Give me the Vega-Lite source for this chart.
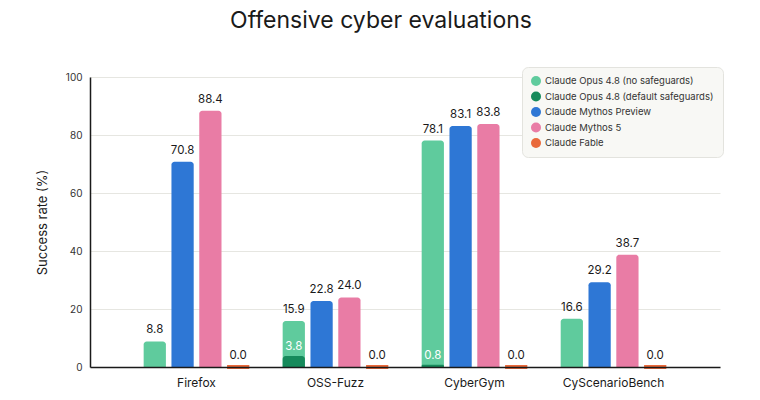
{
  "$schema": "https://vega.github.io/schema/vega-lite/v6.json",
  "autosize": "none",
  "width": 630,
  "height": 290,
  "padding": {"left": 90, "top": 77, "right": 40, "bottom": 33},
  "background": "white",
  "title": {
    "text": "Offensive cyber evaluations",
    "anchor": "middle",
    "frame": "group",
    "dx": -24,
    "offset": 34,
    "fontSize": 23,
    "fontWeight": "normal",
    "font": "Inter",
    "color": "#1a1a1a"
  },
  "config": {
    "view": {"stroke": null},
    "font": "Inter"
  },
  "data": {
    "values": [
      {"bench": "Firefox", "series": "Claude Opus 4.8 (no safeguards)", "slot": "a", "value": 8.8, "label": "8.8"},
      {"bench": "OSS-Fuzz", "series": "Claude Opus 4.8 (no safeguards)", "slot": "a", "value": 15.9, "label": "15.9"},
      {"bench": "CyberGym", "series": "Claude Opus 4.8 (no safeguards)", "slot": "a", "value": 78.1, "label": "78.1"},
      {"bench": "CyScenarioBench", "series": "Claude Opus 4.8 (no safeguards)", "slot": "a", "value": 16.6, "label": "16.6"},
      {"bench": "OSS-Fuzz", "series": "Claude Opus 4.8 (default safeguards)", "slot": "a", "value": 3.8, "label": "3.8"},
      {"bench": "CyberGym", "series": "Claude Opus 4.8 (default safeguards)", "slot": "a", "value": 0.8, "label": "0.8"},
      {"bench": "Firefox", "series": "Claude Mythos Preview", "slot": "b", "value": 70.8, "label": "70.8"},
      {"bench": "OSS-Fuzz", "series": "Claude Mythos Preview", "slot": "b", "value": 22.8, "label": "22.8"},
      {"bench": "CyberGym", "series": "Claude Mythos Preview", "slot": "b", "value": 83.1, "label": "83.1"},
      {"bench": "CyScenarioBench", "series": "Claude Mythos Preview", "slot": "b", "value": 29.2, "label": "29.2"},
      {"bench": "Firefox", "series": "Claude Mythos 5", "slot": "c", "value": 88.4, "label": "88.4"},
      {"bench": "OSS-Fuzz", "series": "Claude Mythos 5", "slot": "c", "value": 24.0, "label": "24.0"},
      {"bench": "CyberGym", "series": "Claude Mythos 5", "slot": "c", "value": 83.8, "label": "83.8"},
      {"bench": "CyScenarioBench", "series": "Claude Mythos 5", "slot": "c", "value": 38.7, "label": "38.7"},
      {"bench": "Firefox", "series": "Claude Fable", "slot": "d", "value": 0.0, "label": "0.0"},
      {"bench": "OSS-Fuzz", "series": "Claude Fable", "slot": "d", "value": 0.0, "label": "0.0"},
      {"bench": "CyberGym", "series": "Claude Fable", "slot": "d", "value": 0.0, "label": "0.0"},
      {"bench": "CyScenarioBench", "series": "Claude Fable", "slot": "d", "value": 0.0, "label": "0.0"}
    ]
  },
  "encoding": {
    "x": {
      "field": "bench",
      "type": "nominal",
      "sort": ["Firefox", "OSS-Fuzz", "CyberGym", "CyScenarioBench"],
      "scale": {"paddingInner": 0.2, "paddingOuter": 0.366},
      "axis": {
        "title": null,
        "labelAngle": 0,
        "labelFontSize": 12,
        "labelColor": "#1a1a1a",
        "labelPadding": 10,
        "ticks": false,
        "domainColor": "#1a1a1a",
        "domainWidth": 1.5,
        "grid": false,
        "zindex": 2
      }
    },
    "xOffset": {
      "field": "slot",
      "type": "nominal",
      "scale": {"domain": ["a", "b", "c", "d"], "paddingInner": 0.2, "paddingOuter": 0.1}
    },
    "y": {
      "field": "value",
      "type": "quantitative",
      "stack": null,
      "scale": {"domain": [0, 100]},
      "axis": {
        "title": "Success rate (%)",
        "titleFontSize": 13,
        "titleFontWeight": "normal",
        "titleColor": "#1a1a1a",
        "titlePadding": 16,
        "values": [0, 20, 40, 60, 80, 100],
        "labelFontSize": 10,
        "labelColor": "#333333",
        "labelPadding": 8,
        "ticks": false,
        "domainColor": "#1a1a1a",
        "domainWidth": 1.5,
        "gridColor": "#e6e6e1",
        "gridWidth": 1,
        "zindex": 0
      }
    }
  },
  "layer": [
    {
      "transform": [{"filter": "datum.series !== 'Claude Fable'"}],
      "mark": {"type": "bar", "cornerRadiusTopLeft": 3, "cornerRadiusTopRight": 3},
      "encoding": {
        "color": {
          "field": "series",
          "type": "nominal",
          "scale": {
            "domain": ["Claude Opus 4.8 (no safeguards)", "Claude Opus 4.8 (default safeguards)", "Claude Mythos Preview", "Claude Mythos 5", "Claude Fable"],
            "range": ["#5fcb9d", "#168a5b", "#2e77d5", "#e97ca5", "#e9693b"]
          },
          "legend": {
            "title": null,
            "orient": "none",
            "legendX": 432,
            "legendY": -10,
            "symbolType": "circle",
            "symbolSize": 100,
            "symbolStrokeWidth": 0,
            "labelFontSize": 9.5,
            "labelLimit": 0,
            "labelColor": "#333333",
            "rowPadding": 5.5,
            "padding": 9,
            "fillColor": "#f8f8f5",
            "strokeColor": "#e3e3de",
            "cornerRadius": 6,
            "labelOffset": 4
          }
        }
      }
    },
    {
      "transform": [{"filter": "datum.series === 'Claude Fable'"}],
      "mark": {"type": "bar", "color": "#e9693b", "stroke": "#e9693b", "strokeWidth": 4, "cornerRadius": 2}
    },
    {
      "transform": [{"filter": "datum.series !== 'Claude Opus 4.8 (default safeguards)'"}],
      "mark": {"type": "text", "baseline": "bottom", "dy": -6, "fontSize": 11.5, "color": "#1a1a1a"},
      "encoding": {"text": {"field": "label"}}
    },
    {
      "transform": [{"filter": "datum.series === 'Claude Opus 4.8 (default safeguards)'"}],
      "mark": {"type": "text", "baseline": "bottom", "dy": -4, "fontSize": 11.5, "color": "white"},
      "encoding": {"text": {"field": "label"}}
    }
  ]
}
